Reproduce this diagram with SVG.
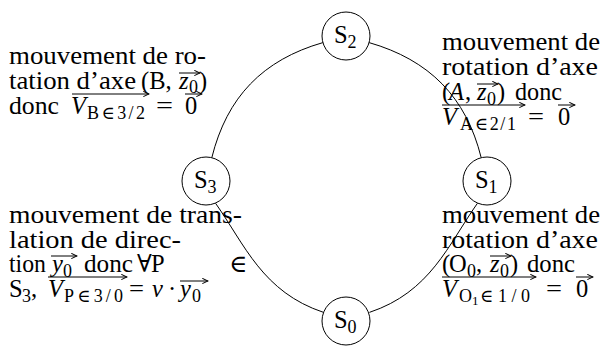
<svg xmlns="http://www.w3.org/2000/svg" width="605" height="347" viewBox="0 0 605 347">
<defs>
<style>
.t{font-family:"Liberation Serif","DejaVu Serif",serif;font-size:24.5px;fill:#000}
.i{font-style:italic}
.s{font-size:18px}
.ss{font-size:13px}
.nc{fill:#fff;stroke:#000;stroke-width:1}
.e{fill:none;stroke:#000;stroke-width:1}
.v{fill:none;stroke:#000;stroke-width:1}
</style>
<marker id="ah" viewBox="0 0 8 8" refX="7" refY="4" markerWidth="7" markerHeight="7" markerUnits="userSpaceOnUse" orient="auto"><path d="M0.5,1 L7,4 L0.5,7" fill="none" stroke="#000" stroke-width="1.2"/></marker>
</defs>
<rect width="605" height="347" fill="#fff"/>
<g id="edges">
<path class="e" d="M322.9,42.6 C262.7,59.9 226.9,97 211.8,157.7"/>
<path class="e" d="M369.1,42.6 C429.3,59.9 466.1,97 481.2,157.7"/>
<path class="e" d="M215.5,203.2 C245,245 262.5,292 323.6,312.4"/>
<path class="e" d="M477.5,203.2 C448,245 430.5,292 369.4,312.4"/>
</g>
<g id="S2"><circle class="nc" cx="346" cy="36" r="24"/><text class="t" x="334" y="43">S</text><text class="t s" x="347.5" y="48">2</text></g>
<g id="S3"><circle class="nc" cx="206" cy="181" r="24"/><text class="t" x="194" y="188">S</text><text class="t s" x="207.5" y="193">3</text></g>
<g id="S1"><circle class="nc" cx="487" cy="181" r="24"/><text class="t" x="475" y="188">S</text><text class="t s" x="488.5" y="193">1</text></g>
<g id="S0"><circle class="nc" cx="346" cy="321" r="24"/><text class="t" x="334" y="328">S</text><text class="t s" x="347.5" y="333">0</text></g>
<g id="label-top-left">
<text class="t" x="9" y="64" textLength="197" lengthAdjust="spacingAndGlyphs">mouvement de ro-</text>
<text class="t" x="9" y="89" textLength="127" lengthAdjust="spacingAndGlyphs">tation d’axe</text>
<text class="t" x="141" y="89">(B,</text><text class="t i" x="179" y="89">z</text><text class="t s" x="189" y="93">0</text><text class="t" x="199" y="89">)</text>
<path class="v" d="M179,73 H200" marker-end="url(#ah)"/>
<text class="t" x="9" y="114" textLength="50" lengthAdjust="spacingAndGlyphs">donc</text>
<text class="t i" x="71" y="114">V</text><text class="t s" x="87" y="119" textLength="58" lengthAdjust="spacing">B∈3/2</text>
<text class="t" x="156" y="114" textLength="17" lengthAdjust="spacingAndGlyphs">=</text><text class="t" x="185" y="114">0</text>
<path class="v" d="M72,94 H149" marker-end="url(#ah)"/>
<path class="v" d="M185,94 H202" marker-end="url(#ah)"/>
</g>
<g id="label-top-right">
<text class="t" x="442" y="50" textLength="158" lengthAdjust="spacingAndGlyphs">mouvement de</text>
<text class="t" x="442" y="75" textLength="156" lengthAdjust="spacingAndGlyphs">rotation d’axe</text>
<text class="t" x="442" y="100">(</text><text class="t i" x="449" y="100">A</text><text class="t" x="465" y="100">,</text><text class="t i" x="477" y="100">z</text><text class="t s" x="487" y="105">0</text><text class="t" x="497" y="100">)</text>
<text class="t" x="515" y="100" textLength="47" lengthAdjust="spacingAndGlyphs">donc</text>
<path class="v" d="M477,84 H498" marker-end="url(#ah)"/>
<text class="t i" x="442" y="125">V</text><text class="t s" x="460" y="130" textLength="56" lengthAdjust="spacing">A∈2/1</text>
<text class="t" x="528" y="125" textLength="16" lengthAdjust="spacingAndGlyphs">=</text><text class="t" x="558" y="125">0</text>
<path class="v" d="M442,105 H525" marker-end="url(#ah)"/>
<path class="v" d="M558,105 H575" marker-end="url(#ah)"/>
</g>
<g id="label-bottom-left">
<text class="t" x="9" y="223" textLength="233" lengthAdjust="spacingAndGlyphs">mouvement de trans-</text>
<text class="t" x="9" y="248" textLength="172" lengthAdjust="spacingAndGlyphs">lation de direc-</text>
<text class="t" x="9" y="272" textLength="37" lengthAdjust="spacingAndGlyphs">tion</text>
<text class="t i" x="52" y="272">y</text><text class="t s" x="63" y="277">0</text>
<path class="v" d="M51,256 H77" marker-end="url(#ah)"/>
<text class="t" x="84" y="272" textLength="49" lengthAdjust="spacingAndGlyphs">donc</text>
<text class="t" x="137" y="272">∀</text><text class="t" x="151" y="272">P</text><text class="t" x="229" y="272">∈</text>
<text class="t" x="9" y="297">S</text><text class="t s" x="22" y="302">3</text><text class="t" x="31" y="297">,</text>
<text class="t i" x="48" y="297">V</text><text class="t s" x="64" y="302" textLength="59" lengthAdjust="spacing">P∈3/0</text>
<text class="t" x="129" y="297" textLength="15" lengthAdjust="spacingAndGlyphs">=</text>
<text class="t i" x="152" y="297">ν</text><text class="t" x="168" y="297">·</text>
<text class="t i" x="180" y="297">y</text><text class="t s" x="192" y="302">0</text>
<path class="v" d="M48,277 H127" marker-end="url(#ah)"/>
<path class="v" d="M180,281 H208" marker-end="url(#ah)"/>
</g>
<g id="label-bottom-right">
<text class="t" x="442" y="223" textLength="158" lengthAdjust="spacingAndGlyphs">mouvement de</text>
<text class="t" x="442" y="248" textLength="156" lengthAdjust="spacingAndGlyphs">rotation d’axe</text>
<text class="t" x="442" y="272">(</text><text class="t" x="449" y="272">O</text><text class="t s" x="467" y="277">0</text><text class="t" x="476" y="272">,</text>
<text class="t i" x="490" y="272">z</text><text class="t s" x="500" y="277">0</text><text class="t" x="510" y="272">)</text>
<text class="t" x="527" y="272" textLength="48" lengthAdjust="spacingAndGlyphs">donc</text>
<path class="v" d="M490,256 H511" marker-end="url(#ah)"/>
<text class="t i" x="442" y="297">V</text><text class="t s" x="459" y="302">O</text><text class="t ss" x="472" y="305">1</text>
<text class="t s" x="480" y="302" textLength="50" lengthAdjust="spacing">∈1/0</text>
<text class="t" x="546" y="297" textLength="16" lengthAdjust="spacingAndGlyphs">=</text><text class="t" x="576" y="297">0</text>
<path class="v" d="M442,277 H536" marker-end="url(#ah)"/>
<path class="v" d="M576,277 H593" marker-end="url(#ah)"/>
</g>
</svg>
